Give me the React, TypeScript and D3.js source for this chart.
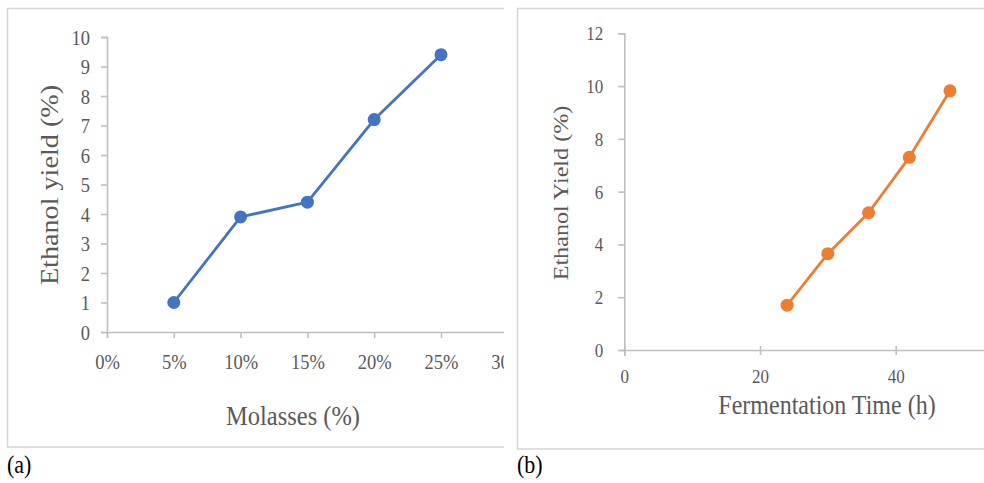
import * as d3 from "d3";
import React, { useRef, useEffect } from "react";

const width = 984;
const height = 483;
const STRETCH = 1.15;
const font = "'Liberation Serif', 'Times New Roman', serif";
const textColor = "#595959";
const axisColor = "#BFBFBF";

// panel (a): molasses concentration
const molasses = [5, 10, 15, 20, 25];
const yieldA = [1.0, 3.9, 4.4, 7.2, 9.4];
const molassesTicks = [0, 5, 10, 15, 20, 25, 30];
const yieldATicks = [0, 1, 2, 3, 4, 5, 6, 7, 8, 9, 10];

// panel (b): fermentation time
const timeH = [24, 30, 36, 42, 48];
const yieldB = [1.7, 3.65, 5.2, 7.3, 9.82];
const timeTicks = [0, 20, 40];
const yieldBTicks = [0, 2, 4, 6, 8, 10, 12];

const styleTicks = (g, dx, dy, anchor, size) => {
  g.selectAll(".tick text")
    .attr("x", null).attr("y", null).attr("dy", null)
    .attr("text-anchor", anchor)
    .attr("transform", `translate(${dx},${dy}) scale(1,${STRETCH})`)
    .attr("font-size", size)
    .attr("font-family", font)
    .attr("fill", textColor);
  g.selectAll("line, path").attr("stroke", axisColor).attr("stroke-width", 1.6);
};

const addText = (g, txt, x, y, size, rotate = false, color = textColor, anchor = "middle") =>
  g.append("text")
    .attr("transform", `translate(${x},${y}) scale(1,${STRETCH})${rotate ? " rotate(-90)" : ""}`)
    .attr("text-anchor", anchor)
    .attr("font-family", font)
    .attr("font-size", size)
    .attr("fill", color)
    .text(txt);

export default function App() {
  const ref = useRef(null);

  useEffect(() => {
    const svg = d3.select(ref.current);
    svg.selectAll("*").remove();

    svg.append("rect").attr("width", width).attr("height", height).attr("fill", "#fff");

    svg.append("defs").append("clipPath").attr("id", "clipA")
      .append("rect").attr("x", 0).attr("y", 0).attr("width", 504).attr("height", 455);

    // ---------- panel (a)
    const a = svg.append("g").attr("clip-path", "url(#clipA)");
    a.append("rect")
      .attr("x", 7.5).attr("y", 8.5).attr("width", 520).attr("height", 438.5)
      .attr("fill", "none").attr("stroke", "#D6D6D6").attr("stroke-width", 1.5);

    const xA = d3.scaleLinear().domain([0, 30]).range([107, 507.8]);
    const yA = d3.scaleLinear().domain([0, 10]).range([332, 37]);

    a.append("g")
      .attr("transform", `translate(0,${yA(0)})`)
      .call(d3.axisBottom(xA).tickValues(molassesTicks).tickSizeOuter(0).tickSize(6)
        .tickFormat(d => `${d}%`))
      .call(g => styleTicks(g, 0, 37, "middle", 18.5));

    a.append("g")
      .attr("transform", `translate(${xA(0)},0)`)
      .call(d3.axisLeft(yA).tickValues(yieldATicks).tickSizeOuter(0).tickSize(6))
      .call(g => styleTicks(g, -17, 7, "end", 18.5));

    const ptsA = molasses.map((m, i) => [xA(m), yA(yieldA[i])]);
    a.append("path")
      .attr("d", d3.line()(ptsA))
      .attr("fill", "none").attr("stroke", "#4472C4").attr("stroke-width", 2.8)
      .attr("stroke-linejoin", "round");
    a.selectAll("circle.pa").data(ptsA).join("circle")
      .attr("class", "pa")
      .attr("cx", d => d[0]).attr("cy", d => d[1]).attr("r", 6.5)
      .attr("fill", "#4472C4");

    addText(a, "Molasses (%)", 293, 425, 24.5);
    addText(a, "Ethanol yield (%)", 58, 185, 24.5, true);

    // ---------- panel (b)
    const b = svg.append("g");
    b.append("rect")
      .attr("x", 517.5).attr("y", 8.5).attr("width", 480).attr("height", 440.5)
      .attr("fill", "none").attr("stroke", "#D6D6D6").attr("stroke-width", 1.5);

    const xB = d3.scaleLinear().domain([0, 60]).range([624.3, 1031.4]);
    const yB = d3.scaleLinear().domain([0, 12]).range([350, 33.3]);

    b.append("g")
      .attr("transform", `translate(0,${yB(0)})`)
      .call(d3.axisBottom(xB).tickValues(timeTicks).tickSizeOuter(0).tickSize(6))
      .call(g => styleTicks(g, 0, 33, "middle", 17))
      .call(g => g.selectAll(".tick line").attr("y1", -4).attr("y2", 5));

    b.append("g")
      .attr("transform", `translate(${xB(0)},0)`)
      .call(d3.axisLeft(yB).tickValues(yieldBTicks).tickSizeOuter(0).tickSize(6))
      .call(g => styleTicks(g, -21, 6.5, "end", 17));

    const ptsB = timeH.map((t, i) => [xB(t), yB(yieldB[i])]);
    b.append("path")
      .attr("d", d3.line()(ptsB))
      .attr("fill", "none").attr("stroke", "#ED7D31").attr("stroke-width", 2.8)
      .attr("stroke-linejoin", "round");
    b.selectAll("circle.pb").data(ptsB).join("circle")
      .attr("class", "pb")
      .attr("cx", d => d[0]).attr("cy", d => d[1]).attr("r", 6.5)
      .attr("fill", "#ED7D31");

    addText(b, "Fermentation Time (h)", 827, 414, 24);
    addText(b, "Ethanol Yield (%)", 568, 193, 21, true);

    // panel captions
    addText(svg, "(a)", 7, 473, 22, false, "#000", "start");
    addText(svg, "(b)", 517, 473, 22, false, "#000", "start");
  }, []);

  return (
    <svg
      ref={ref}
      width={width}
      height={height}
      style={{ position: "absolute", left: 0, top: 0, display: "block" }}
    />
  );
}
